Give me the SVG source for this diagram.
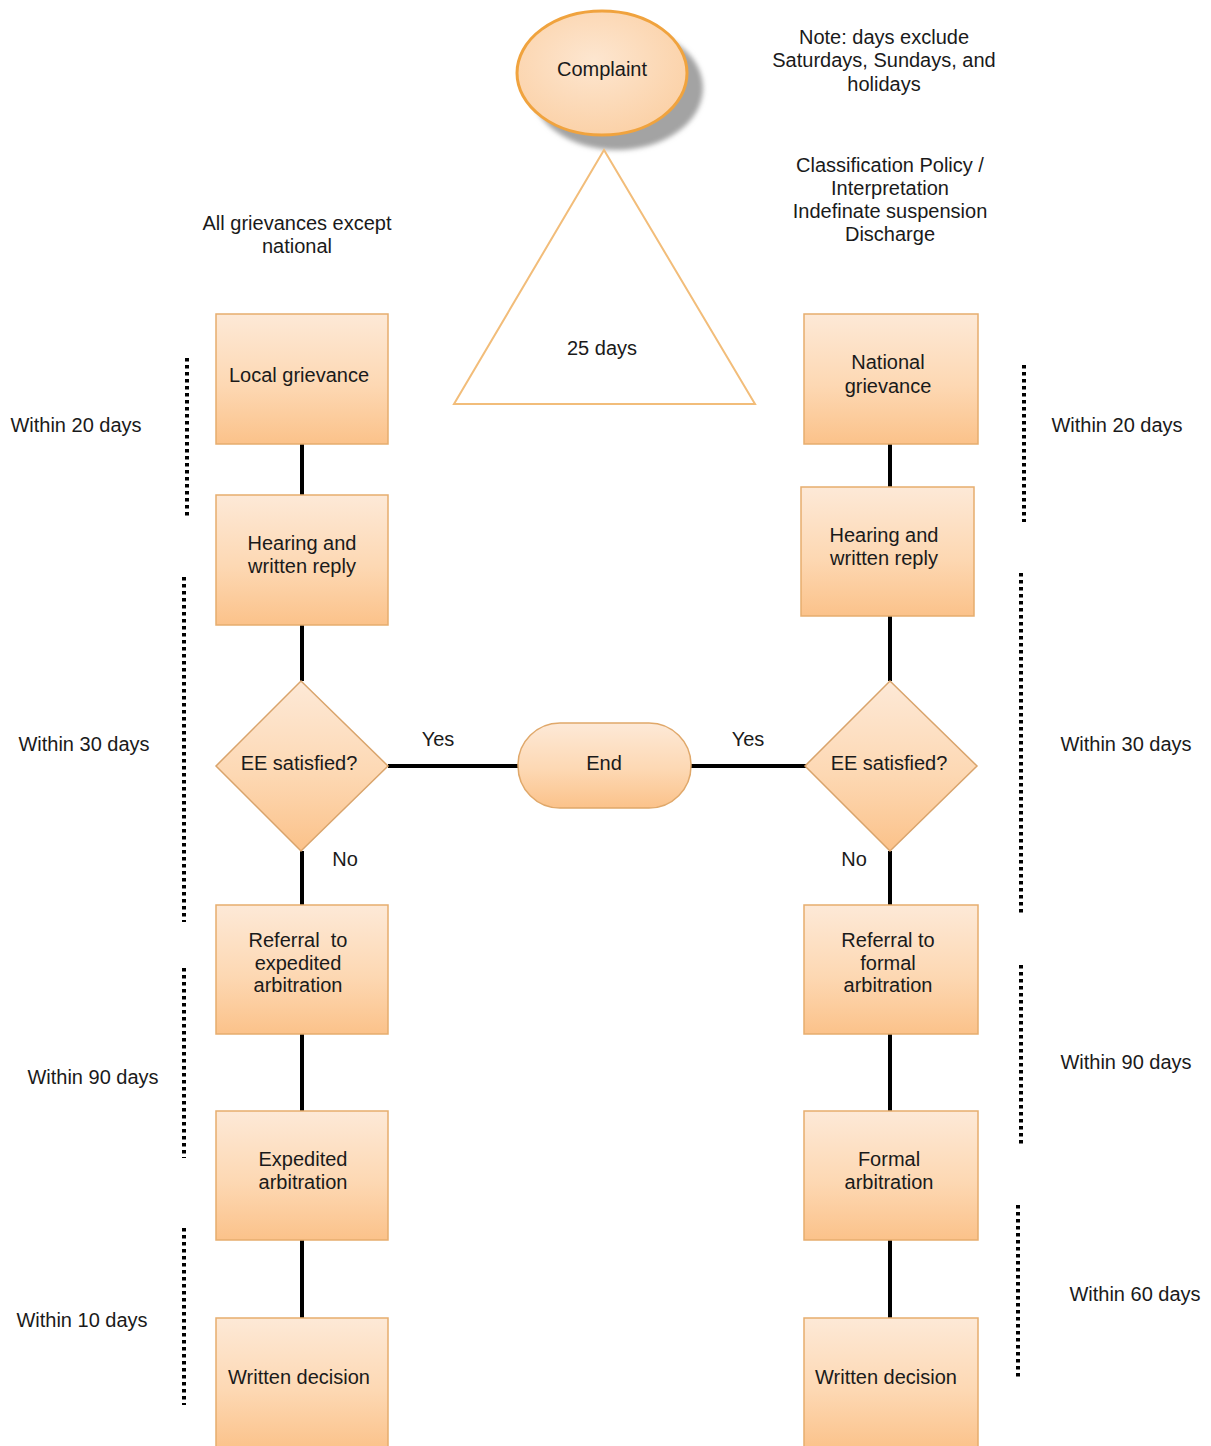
<svg xmlns="http://www.w3.org/2000/svg" width="1211" height="1446" viewBox="0 0 1211 1446">
  <defs>
    <linearGradient id="peach" x1="0" y1="0" x2="0" y2="1">
      <stop offset="0" stop-color="#fde9d7"/>
      <stop offset="0.55" stop-color="#fdd8b3"/>
      <stop offset="1" stop-color="#fbc28a"/>
    </linearGradient>
    <radialGradient id="oval" cx="0.45" cy="0.4" r="0.65">
      <stop offset="0" stop-color="#fde6d0"/>
      <stop offset="1" stop-color="#fbd0a5"/>
    </radialGradient>
    <filter id="soft" x="-20%" y="-20%" width="140%" height="140%">
      <feGaussianBlur stdDeviation="2.5"/>
    </filter>
  </defs>
  <style>
    text { font-family: "Liberation Sans", Arial, sans-serif; font-size: 20px; fill: #1a1a1a; text-anchor: middle; dominant-baseline: central; }
    .box { fill: url(#peach); stroke: #e6ad6e; stroke-width: 1.5; }
    .diamond { fill: url(#peach); stroke: #d9a46c; stroke-width: 1.5; }
    .link { stroke: #000; stroke-width: 4; fill: none; }
    .span { stroke: #000; stroke-width: 4; stroke-dasharray: 3.5 3.5; fill: none; }
  </style>
  <rect width="1211" height="1446" fill="#ffffff"/>

  <!-- connectors -->
  <g id="connectors">
    <line class="link" x1="302" y1="444" x2="302" y2="495"/>
    <line class="link" x1="302" y1="625" x2="302" y2="681"/>
    <line class="link" x1="302" y1="851" x2="302" y2="905"/>
    <line class="link" x1="302" y1="1034" x2="302" y2="1111"/>
    <line class="link" x1="302" y1="1240" x2="302" y2="1318"/>
    <line class="link" x1="890" y1="444" x2="890" y2="487"/>
    <line class="link" x1="890" y1="616" x2="890" y2="681"/>
    <line class="link" x1="890" y1="851" x2="890" y2="905"/>
    <line class="link" x1="890" y1="1034" x2="890" y2="1111"/>
    <line class="link" x1="890" y1="1240" x2="890" y2="1318"/>
    <line class="link" x1="388" y1="766" x2="519" y2="766"/>
    <line class="link" x1="690" y1="766" x2="806" y2="766"/>
  </g>

  <!-- time-span markers -->
  <g id="spans">
    <line class="span" x1="187" y1="358" x2="187" y2="518"/>
    <line class="span" x1="184" y1="577" x2="184" y2="922"/>
    <line class="span" x1="184" y1="968" x2="184" y2="1158"/>
    <line class="span" x1="184" y1="1228" x2="184" y2="1405"/>
    <line class="span" x1="1024" y1="365" x2="1024" y2="522"/>
    <line class="span" x1="1021" y1="573" x2="1021" y2="916"/>
    <line class="span" x1="1021" y1="965" x2="1021" y2="1145"/>
    <line class="span" x1="1018" y1="1205" x2="1018" y2="1380"/>
  </g>

  <!-- start -->
  <g id="complaint">
    <ellipse cx="617" cy="88" rx="86" ry="62" fill="#a3a3a3" filter="url(#soft)"/>
    <ellipse cx="602" cy="73" rx="85" ry="62" fill="url(#oval)" stroke="#f0a33e" stroke-width="3"/>
    <text x="602" y="69">Complaint</text>
  </g>

  <g id="deadline">
    <polygon points="604,150 454,404 755,404" fill="#ffffff" stroke="#f2bd7a" stroke-width="2"/>
    <text x="602" y="348">25 days</text>
  </g>

  <g id="note">
    <text x="884" y="37">Note: days exclude</text>
    <text x="884" y="60">Saturdays, Sundays, and</text>
    <text x="884" y="84">holidays</text>
  </g>

  <g id="scope-national">
    <text x="890" y="165">Classification Policy /</text>
    <text x="890" y="188">Interpretation</text>
    <text x="890" y="211">Indefinate suspension</text>
    <text x="890" y="234">Discharge</text>
  </g>

  <g id="scope-local">
    <text x="297" y="223">All grievances except</text>
    <text x="297" y="246">national</text>
  </g>

  <!-- local track -->
  <g id="local-grievance">
    <rect class="box" x="216" y="314" width="172" height="130"/>
    <text x="299" y="375">Local grievance</text>
  </g>
  <g id="local-hearing">
    <rect class="box" x="216" y="495" width="172" height="130"/>
    <text x="302" y="543">Hearing and</text>
    <text x="302" y="566">written reply</text>
  </g>
  <g id="local-decision">
    <polygon class="diamond" points="301,681 388,766 301,851 216,766"/>
    <text x="299" y="763">EE satisfied?</text>
  </g>
  <g id="local-referral">
    <rect class="box" x="216" y="905" width="172" height="129"/>
    <text x="298" y="940" xml:space="preserve">Referral  to</text>
    <text x="298" y="963">expedited</text>
    <text x="298" y="985">arbitration</text>
  </g>
  <g id="expedited-arbitration">
    <rect class="box" x="216" y="1111" width="172" height="129"/>
    <text x="303" y="1159">Expedited</text>
    <text x="303" y="1182">arbitration</text>
  </g>
  <g id="local-written">
    <rect class="box" x="216" y="1318" width="172" height="132"/>
    <text x="299" y="1377">Written decision</text>
  </g>

  <!-- national track -->
  <g id="national-grievance">
    <rect class="box" x="804" y="314" width="174" height="130"/>
    <text x="888" y="362">National</text>
    <text x="888" y="386">grievance</text>
  </g>
  <g id="national-hearing">
    <rect class="box" x="801" y="487" width="173" height="129"/>
    <text x="884" y="535">Hearing and</text>
    <text x="884" y="558">written reply</text>
  </g>
  <g id="national-decision">
    <polygon class="diamond" points="890,681 977,766 890,851 805,766"/>
    <text x="889" y="763">EE satisfied?</text>
  </g>
  <g id="national-referral">
    <rect class="box" x="804" y="905" width="174" height="129"/>
    <text x="888" y="940">Referral to</text>
    <text x="888" y="963">formal</text>
    <text x="888" y="985">arbitration</text>
  </g>
  <g id="formal-arbitration">
    <rect class="box" x="804" y="1111" width="174" height="129"/>
    <text x="889" y="1159">Formal</text>
    <text x="889" y="1182">arbitration</text>
  </g>
  <g id="national-written">
    <rect class="box" x="804" y="1318" width="174" height="132"/>
    <text x="886" y="1377">Written decision</text>
  </g>

  <!-- terminal -->
  <g id="end">
    <rect x="518" y="723" width="173" height="85" rx="42" ry="42" fill="url(#peach)" stroke="#e0a86a" stroke-width="1.5"/>
    <text x="604" y="763">End</text>
  </g>

  <!-- branch labels -->
  <g id="branch-labels">
    <text x="438" y="739">Yes</text>
    <text x="748" y="739">Yes</text>
    <text x="345" y="859">No</text>
    <text x="854" y="859">No</text>
  </g>

  <!-- time limits -->
  <g id="time-labels">
    <text x="76" y="425">Within 20 days</text>
    <text x="84" y="744">Within 30 days</text>
    <text x="93" y="1077">Within 90 days</text>
    <text x="82" y="1320">Within 10 days</text>
    <text x="1117" y="425">Within 20 days</text>
    <text x="1126" y="744">Within 30 days</text>
    <text x="1126" y="1062">Within 90 days</text>
    <text x="1135" y="1294">Within 60 days</text>
  </g>
</svg>
